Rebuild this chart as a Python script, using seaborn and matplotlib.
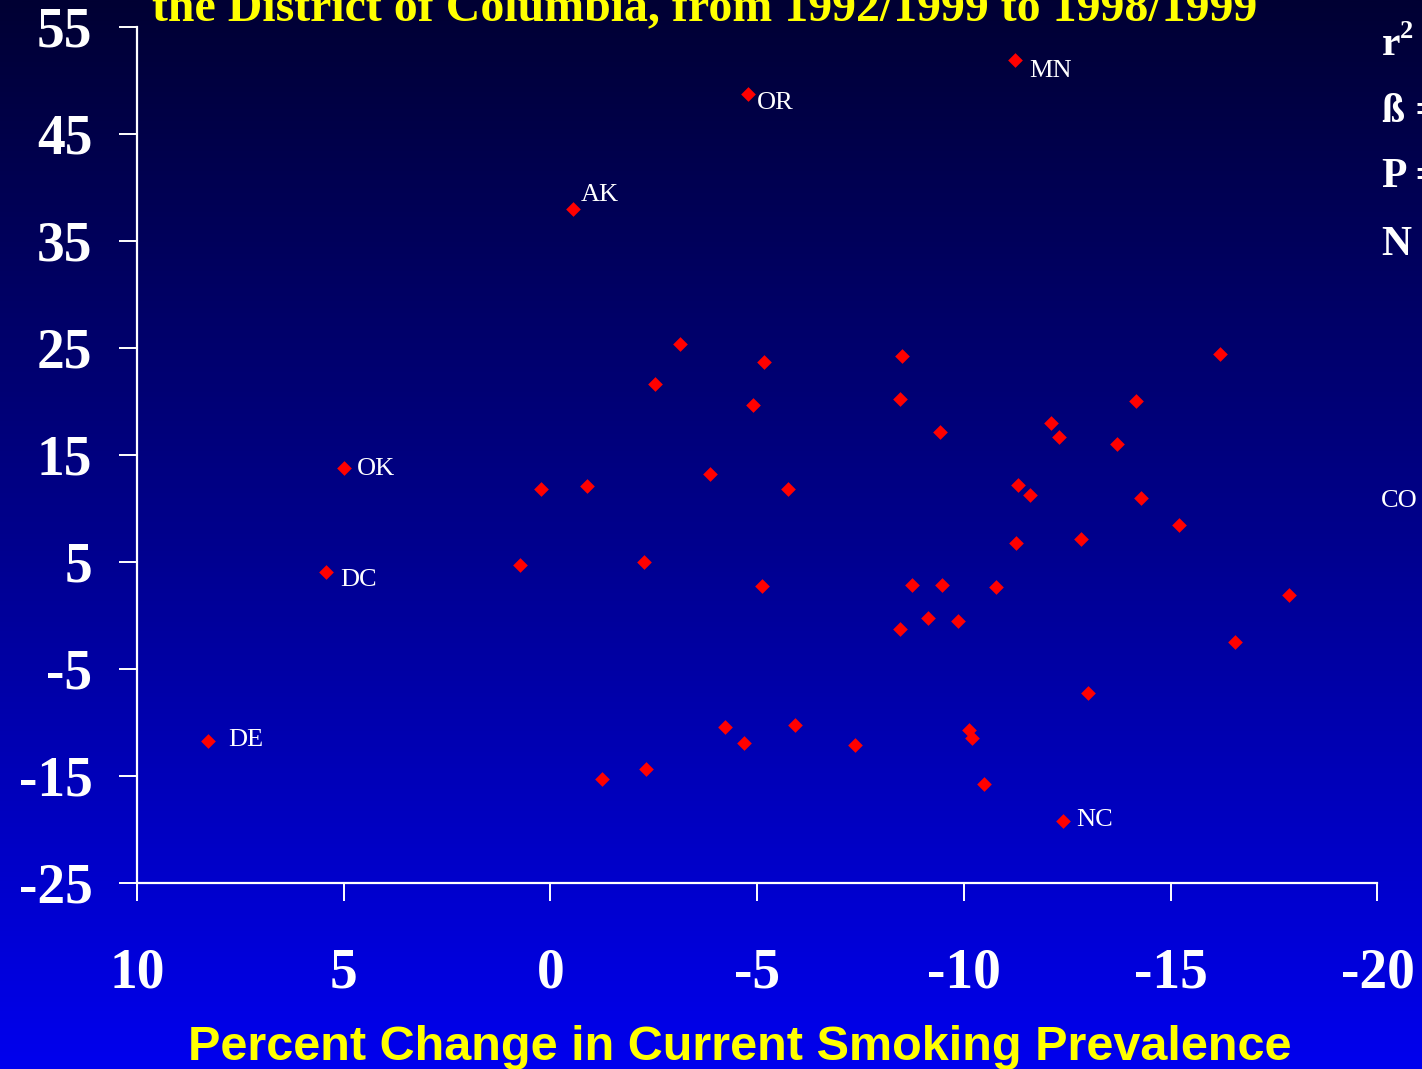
import numpy as np
import pandas as pd
import matplotlib
matplotlib.use("Agg")
import matplotlib.pyplot as plt
from matplotlib.colors import LinearSegmentedColormap
import seaborn as sns

# Percent change in current smoking prevalence (x) and in per-capita cigarette sales (y)
state = ["MN", "OR", "AK", "OK", "DC", "DE", "NC",
         "", "", "", "", "", "", "", "", "", "", "",
         "", "", "", "", "", "", "", "", "", "", "",
         "", "", "", "", "", "", "", "", "", "", "",
         "", "", "", "", "", "", "", "", "", ""]
smoking_change = [-11.24, -4.77, -0.54, 5.00, 5.44, 8.27, -12.39,
                  -3.13, -5.16, -2.52, -4.91, -3.86, 0.23, -0.89, -5.74, 0.74, -2.26, -5.12,
                  -8.49, -8.45, -9.43, -14.17, -12.10, -12.29, -13.70, -11.31, -11.60, -14.27, -15.19,
                  -11.27, -12.83, -8.74, -9.47, -10.77, -9.14, -9.86, -8.45, -16.19, -17.86, -16.55,
                  -12.99, -1.25, -2.30, -4.21, -4.69, -5.92, -7.36, -10.11, -10.19, -10.48]
sales_change = [51.9, 48.7, 38.0, 13.76, 4.04, -11.76, -19.23,
                25.35, 23.69, 21.58, 19.62, 13.17, 11.77, 12.07, 11.77, 4.66, 4.94, 2.70,
                24.25, 20.18, 17.09, 20.05, 17.93, 16.68, 15.97, 12.20, 11.23, 10.93, 8.43,
                6.72, 7.15, 2.82, 2.82, 2.66, -0.26, -0.54, -1.26, 24.41, 1.86, -2.48,
                -7.27, -15.34, -14.40, -10.48, -11.97, -10.29, -12.16, -10.70, -11.45, -15.78]

x_ticks = [10, 5, 0, -5, -10, -15, -20]
y_ticks = [55, 45, 35, 25, 15, 5, -5, -15, -25]

title_text = "the District of Columbia, from 1992/1999 to 1998/1999"
x_title = "Percent Change in Current Smoking Prevalence"

df = pd.DataFrame({"state": state, "smoking": smoking_change, "sales": sales_change})

# label offsets (points) for the annotated states
label_offsets = {"MN": (10, -8), "OR": (6.5, -6.5), "AK": (5.8, 9.5), "OK": (9.4, -1),
                 "DC": (10.8, -5.5), "DE": (14.4, 0.4), "NC": (10, 0.4)}

sns.set_theme(style="white")
plt.rcParams["font.family"] = ["Liberation Serif", "DejaVu Serif"]
plt.rcParams["axes.unicode_minus"] = False

fig = plt.figure(figsize=(14.22, 10.69), dpi=100)

# vertical navy-to-blue background
bg = fig.add_axes([0, 0, 1, 1], zorder=-10)
grad = np.linspace(0, 1, 512).reshape(-1, 1)
cmap = LinearSegmentedColormap.from_list("bg", ["#000033", "#00008C", "#0000EE"])
bg.imshow(grad, aspect="auto", cmap=cmap, extent=[0, 1, 0, 1], origin="upper")
bg.axis("off")

ax = fig.add_axes([0.0963, 0.1743, 0.8724, 0.8007])
ax.patch.set_alpha(0)

sns.scatterplot(data=df, x="smoking", y="sales", marker="D", color="#FF0000",
                s=56, linewidth=0, ax=ax, legend=False, zorder=3)

for _, row in df[df["state"] != ""].iterrows():
    dx, dy = label_offsets[row["state"]]
    ax.annotate(row["state"], (row["smoking"], row["sales"]), xytext=(dx, dy),
                textcoords="offset points", color="white", fontsize=19,
                ha="left", va="center", annotation_clip=False)

ax.text(-20.07, 10.7, "CO", color="white", fontsize=19, ha="left", va="center",
        clip_on=False)

ax.set_xlim(10, -20)
ax.set_ylim(-25, 55)
ax.set_xticks(x_ticks)
ax.set_yticks(y_ticks)
ax.set_xticklabels([str(t) for t in x_ticks])
ax.set_yticklabels([str(t) for t in y_ticks])
ax.set_xlabel("")
ax.set_ylabel("")

for side in ["top", "right"]:
    ax.spines[side].set_visible(False)
for side in ["left", "bottom"]:
    ax.spines[side].set_color("white")
    ax.spines[side].set_linewidth(1.6)

ax.tick_params(axis="both", which="major", bottom=True, left=True, colors="white",
               width=1.4, length=13, direction="out")
ax.tick_params(axis="x", pad=34)
ax.tick_params(axis="y", pad=19)
for lbl in ax.get_xticklabels() + ax.get_yticklabels():
    lbl.set_fontsize(40)
    lbl.set_fontweight("bold")
    lbl.set_color("white")

fig.text(152 / 1422, 1 - 21 / 1069, title_text, color="#FFFF00", fontsize=34.5,
         fontweight="bold", ha="left", va="baseline")

fig.text(739.5 / 1422, 1 - 1060 / 1069, x_title, color="#FFFF00", fontsize=35,
         fontweight="bold", family=["Liberation Sans", "DejaVu Sans"],
         ha="center", va="baseline")

# regression statistics block at the right edge
fig.text(1382 / 1422, 1 - 55 / 1069, "r", color="white", fontsize=30,
         fontweight="bold", ha="left", va="baseline")
fig.text(1400 / 1422, 1 - 38 / 1069, "2", color="white", fontsize=19,
         fontweight="bold", ha="left", va="baseline")
fig.text(1382 / 1422, 1 - 122 / 1069, "ß =", color="white", fontsize=30,
         fontweight="bold", ha="left", va="baseline")
fig.text(1382 / 1422, 1 - 187 / 1069, "P =", color="white", fontsize=30,
         fontweight="bold", ha="left", va="baseline")
fig.text(1382 / 1422, 1 - 255 / 1069, "N =", color="white", fontsize=30,
         fontweight="bold", ha="left", va="baseline")

fig.savefig("out.png", dpi=100)
